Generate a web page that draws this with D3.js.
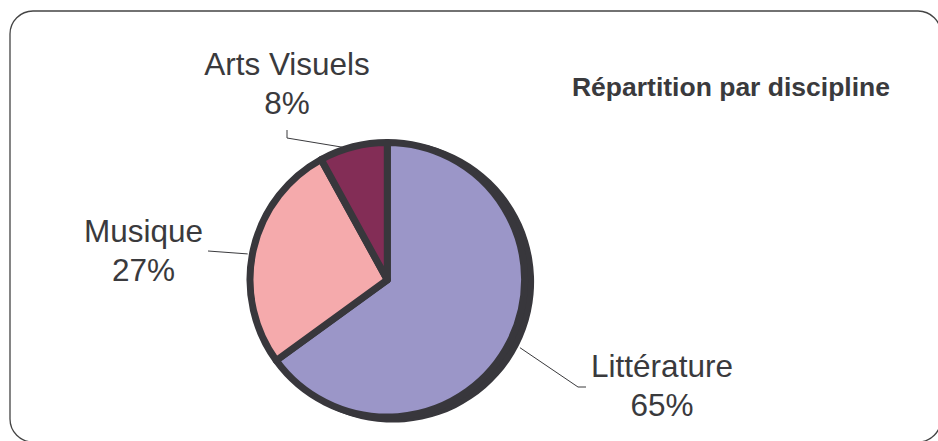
<!DOCTYPE html>
<html>
<head>
<meta charset="utf-8">
<script src="https://cdn.jsdelivr.net/npm/d3@7"></script>
<style>
  html, body { margin: 0; padding: 0; background: #fff; }
  svg { display: block; }
  text { font-family: "Liberation Sans", Arial, Helvetica, sans-serif; fill: #3a3a3d; }
</style>
</head>
<body>
<svg id="chart" width="938" height="441"></svg>
<script>
// data
const categories = ["Littérature", "Musique", "Arts Visuels"];
const shares = [65, 27, 8];
const sliceColors = ["#9b96c8", "#f5aaac", "#832d56"];
const chartTitle = "Répartition par discipline";

// label placement (centre x, first baseline y) and where the leader leaves the pie
const labelPos = [
    { x: 662, y: 377, angle: 117.1, r: 149, leader: [[586, 387], [578, 387]] },
    { x: 143.5, y: 241.5, angle: 280.5, r: 142, leader: [[208, 251]] },
    { x: 287, y: 75, angle: 341.3, r: 140, leader: [[287, 130], [287, 138]] }
];

const svg = d3.select("#chart");
const cx = 387.3, cy = 279.8;
const radius = 137.3;      // radius of the outline path
const strokeW = 7;
const edge = "#38373c";

// rounded frame, runs off the right and bottom of the picture
svg.append("rect")
    .attr("x", 10).attr("y", 11)
    .attr("width", 931).attr("height", 431)
    .attr("rx", 23).attr("ry", 23)
    .attr("fill", "none")
    .attr("stroke", "#444")
    .attr("stroke-width", 1.3);

const pie = d3.pie().sort(null).value(d => d.value);
const arcs = pie(categories.map((c, i) => ({ name: c, value: shares[i], color: sliceColors[i] })));

const arc = d3.arc().innerRadius(0).outerRadius(radius);
const shadowArc = d3.arc().innerRadius(0).outerRadius(radius + strokeW / 2);

// shadow, offset to the lower right
svg.append("g")
    .attr("transform", `translate(${cx + 6}, ${cy + 2})`)
    .selectAll("path")
    .data(arcs)
    .enter()
    .append("path")
    .attr("d", shadowArc)
    .attr("fill", edge);

// slices
svg.append("g")
    .attr("transform", `translate(${cx}, ${cy})`)
    .selectAll("path")
    .data(arcs)
    .enter()
    .append("path")
    .attr("d", arc)
    .attr("fill", d => d.data.color)
    .attr("stroke", edge)
    .attr("stroke-width", strokeW)
    .attr("stroke-linejoin", "round");

// leader lines
const line = d3.line();
svg.append("g")
    .selectAll("path")
    .data(labelPos)
    .enter()
    .append("path")
    .attr("d", p => {
        const a = p.angle * Math.PI / 180;
        const end = [cx + p.r * Math.sin(a), cy - p.r * Math.cos(a)];
        return line(p.leader.concat([end]));
    })
    .attr("fill", "none")
    .attr("stroke", "#3a3a3d")
    .attr("stroke-width", 1);

// data labels
const labels = svg.append("g")
    .selectAll("text")
    .data(arcs)
    .enter()
    .append("text")
    .attr("text-anchor", "middle")
    .attr("font-size", 31.5);
labels.append("tspan")
    .attr("x", (d, i) => labelPos[i].x)
    .attr("y", (d, i) => labelPos[i].y)
    .text(d => d.data.name);
labels.append("tspan")
    .attr("x", (d, i) => labelPos[i].x)
    .attr("y", (d, i) => labelPos[i].y + 39)
    .text(d => d.data.value + "%");

// title
svg.append("text")
    .attr("x", 731)
    .attr("y", 96)
    .attr("text-anchor", "middle")
    .attr("font-size", 26.5)
    .attr("font-weight", "bold")
    .text(chartTitle);
</script>
</body>
</html>
